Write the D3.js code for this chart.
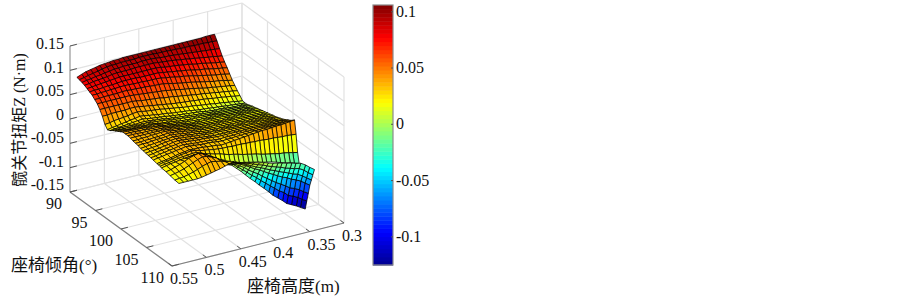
<!DOCTYPE html>
<html>
<head>
<meta charset="utf-8">
<script src="https://cdn.jsdelivr.net/npm/d3@7"></script>
<style>
    body { margin: 0; background: #fff; }
    text { font-family: "Liberation Serif", "Noto Sans CJK SC", serif; fill: #111; }
</style>
</head>
<body>
<svg id="chart" width="903" height="297"></svg>
<script>
(function () {
    'use strict';

    // axis ticks
    var heightTicks = [0.55, 0.5, 0.45, 0.4, 0.35, 0.3];
    var tiltTicks = [90, 95, 100, 105, 110];
    var torqueTicks = [0.15, 0.1, 0.05, 0, -0.05, -0.1, -0.15];
    var barTicks = [0.1, 0.05, 0, -0.05, -0.1];

    // mesh columns, seat height (m)
    var heights = [0.54, 0.533, 0.527, 0.52, 0.513, 0.507, 0.5, 0.493, 0.487, 0.48, 0.473, 0.467, 0.46, 0.453, 0.447, 0.44,
        0.433, 0.427, 0.42, 0.413, 0.407, 0.4, 0.393, 0.387, 0.38, 0.373, 0.367, 0.36, 0.353, 0.347, 0.34];

    // main sheet, one row per seat tilt, torque in 0.001 N.m
    var mainTilts = [90, 90.5, 91, 91.5, 92, 92.5, 93, 93.5, 94, 94.5, 95, 95.5, 96, 96.5, 97, 97.5, 98, 98.5, 99, 99.5, 100, 100.5,
        101, 101.5, 102, 102.5, 103, 103.5, 104, 104.5, 105, 105.7, 106, 106.3, 106.6];
    var mainTorque = [
        [82,86,89,91,93,95,96,97,98,98,99,99,99,99,99,99,99,99,99,99,99,99,99,99,99,99,99,99,100,100,100],
        [81,83,85,87,89,91,93,94,94,95,95,95,95,96,96,96,96,95,95,95,94,94,93,93,93,92,92,92,91,91,90],
        [79,81,82,84,85,87,88,90,90,91,91,91,91,92,92,92,91,90,89,89,88,87,86,85,84,83,82,81,80,79,78],
        [77,78,80,81,82,83,85,86,86,86,86,87,87,87,87,87,86,85,84,83,82,80,79,77,76,74,73,71,70,68,67],
        [74,75,76,77,78,79,80,81,81,81,81,81,81,81,81,81,80,78,77,76,75,73,72,70,68,67,65,63,61,60,58],
        [71,72,72,73,74,74,75,76,76,76,76,75,75,75,75,75,73,72,70,69,67,66,64,62,60,59,57,55,53,52,50],
        [68,68,69,69,70,70,71,71,71,70,70,70,69,69,69,68,66,65,63,61,60,58,56,54,52,50,48,46,45,43,41],
        [63,63,64,64,64,64,65,65,64,64,63,63,62,61,61,60,58,56,54,52,51,49,47,45,43,41,39,38,36,34,32],
        [58,58,58,58,58,58,58,58,57,56,55,54,53,52,51,50,48,47,45,43,42,40,38,36,34,33,31,30,28,27,25],
        [50,50,50,50,50,50,50,50,49,47,46,45,44,43,41,40,39,37,36,34,33,31,30,29,27,26,24,23,21,20,18],
        [40,40,41,41,41,41,42,42,41,39,38,36,35,33,32,30,29,28,27,26,25,24,23,22,20,19,18,16,15,13,12],
        [27,28,30,31,32,33,35,36,35,33,32,31,30,28,27,25,24,22,21,20,19,17,16,15,13,12,11,9,8,6,5],
        [20,22,23,25,26,28,29,31,30,28,27,25,24,23,21,20,19,18,17,15,14,13,12,11,10,9,8,7,6,5,4],
        [22,23,24,25,26,27,28,29,28,26,25,24,23,21,20,19,18,17,16,15,14,12,11,10,10,9,8,7,7,6,5],
        [26,26,27,27,27,27,28,28,27,26,25,24,22,21,20,19,18,17,16,15,14,13,12,11,11,10,10,9,8,8,7],
        [29,29,29,29,29,29,29,29,28,27,26,25,23,22,21,20,19,18,17,16,15,14,13,13,12,12,11,11,10,9,9],
        [32,32,31,31,31,31,30,30,29,27,26,25,24,22,21,20,19,19,18,17,17,16,15,14,14,13,13,12,12,11,10],
        [35,35,34,34,33,33,32,32,31,29,28,26,25,23,22,21,20,19,19,18,18,17,17,16,15,15,14,14,13,13,12],
        [38,37,37,36,36,35,34,33,32,30,29,27,26,24,23,21,21,20,20,20,19,19,18,17,17,16,16,15,15,14,13],
        [38,38,38,37,37,36,35,35,34,32,30,29,27,26,24,23,22,21,21,21,20,20,19,18,18,18,17,17,16,16,15],
        [38,38,38,37,37,37,36,36,35,33,32,30,29,27,26,24,23,23,22,22,21,21,20,20,19,19,18,18,17,17,16],
        [37,37,37,37,37,37,37,37,36,34,33,31,30,28,27,25,24,24,24,23,23,22,22,21,21,20,20,19,19,18,18],
        [35,35,36,36,37,37,38,38,37,35,34,32,31,29,28,26,25,25,25,24,24,23,23,22,22,22,21,21,20,20,19],
        [34,34,35,35,36,36,37,38,37,36,34,33,31,30,29,27,27,26,26,25,25,24,24,24,23,23,23,22,22,21,21],
        [33,34,34,35,36,36,37,38,37,36,34,33,32,31,29,28,28,27,27,26,26,25,25,25,25,24,24,24,23,23,22],
        [31,32,33,34,35,36,37,38,37,36,35,33,33,31,30,29,29,28,28,28,27,27,27,26,26,26,26,25,25,25,24],
        [30,31,32,33,35,36,37,38,37,36,35,34,33,32,31,30,30,30,29,29,29,28,28,28,28,27,27,27,27,26,26],
        [29,30,31,32,34,35,37,38,37,36,35,34,33,32,31,30,30,30,30,30,30,30,29,29,29,29,29,29,29,28,28],
        [28,29,31,32,33,35,36,38,37,36,35,34,34,33,32,31,31,31,31,31,31,31,31,31,31,31,31,31,31,31,31],
        [27,28,30,31,33,34,36,37,36,35,34,34,33,32,31,30,31,31,31,32,32,32,32,33,33,33,33,33,33,34,34],
        [26,28,29,31,32,34,35,37,36,35,34,33,33,32,31,30,31,31,32,32,33,33,34,34,35,35,35,36,36,37,37],
        [24,26,27,29,31,33,34,36,35,35,34,33,32,31,29,30,31,32,33,34,35,36,37,38,38,39,40,40,41,42,43],
        [24,26,27,29,31,33,34,36,35,32,30,29,27,26,25,25,24,24,24,23,23,22,22,21,20,20,19,18,18,17,16],
        [23,25,26,28,30,31,32,33,33,29,25,23,20,18,15,12,10,8,5,3,1,-1,-4,-6,-8,-10,-12,-13,-15,-17,-19],
        [22,24,26,27,29,30,31,32,32,27,22,16,11,5,0,-2,-4,-7,-9,-11,-13,-15,-18,-20,-22,-25,-28,-31,-33,-36,-39]
    ];

    // front sheet, first 13 columns only
    var frontTilts = [106.6, 107.5, 108.3, 109.2, 110];
    var frontTorque = [
        [22,24,26,27,29,30,31,32,32,27,22,16,11],
        [21,23,26,29,33,37,40,42,39,34,28,22,17],
        [19,21,23,26,30,34,38,41,40,36,32,26,22],
        [17,18,19,21,24,27,31,34,36,34,32,29,27],
        [16,16,16,16,16,17,19,21,23,25,28,31,33]
    ];

    // blue wing, columns 12 to 30
    var wingTilts = [107.8, 108.1, 108.4, 108.7, 109, 109.3, 109.6];
    var wingTorque = [
        [10,7,4,-5,-14,-23,-33,-42,-51,-60,-70,-79,-87,-95,-103,-108,-113,-118,-124],
        [14,11,8,0,-8,-15,-24,-31,-39,-47,-55,-62,-70,-76,-84,-88,-93,-99,-105],
        [17,14,11,5,-1,-8,-15,-21,-28,-35,-42,-48,-54,-60,-66,-70,-75,-81,-87],
        [21,18,15,10,5,0,-6,-11,-16,-22,-27,-32,-37,-41,-46,-50,-55,-61,-68],
        [23,21,18,14,9,5,0,-4,-8,-13,-17,-21,-25,-29,-33,-36,-42,-48,-55],
        [25,23,20,17,14,11,7,4,0,-4,-7,-10,-14,-17,-20,-22,-28,-35,-42],
        [28,26,23,21,18,16,13,11,8,5,3,1,-2,-4,-7,-9,-15,-22,-29]
    ];

    var gridColor = '#e2e2e2';
    var axisColor = '#808080';

    var svg = d3.select('#chart');

    // oblique projection, origin is the h=0.55, tilt=110, z=-0.15 corner
    var hx = d3.scaleLinear().domain([0.55, 0.3]).range([172, 344]);
    var hy = d3.scaleLinear().domain([0.55, 0.3]).range([0, -43]);
    var tx = d3.scaleLinear().domain([110, 90]).range([0, -102]);
    var ty = d3.scaleLinear().domain([110, 90]).range([266, 192]);
    var zy = d3.scaleLinear().domain([-0.15, 0.15]).range([0, -146]);
    // the z labels sit a little tighter than their ticks
    var zLabelY = d3.scaleLinear().domain([-0.15, 0.15]).range([190, 49]);

    function px(h, t) { return hx(h) + tx(t); }
    function py(h, t, z) { return hy(h) + ty(t) + zy(z); }

    function line(a, b, color, width) {
        svg.append('line')
            .attr('x1', px(a[0], a[1])).attr('y1', py(a[0], a[1], a[2]))
            .attr('x2', px(b[0], b[1])).attr('y2', py(b[0], b[1], b[2]))
            .attr('stroke', color).attr('stroke-width', width);
    }

    // walls and floor
    heightTicks.forEach(function (h) {
        line([h, 90, -0.15], [h, 90, 0.15], gridColor, 1.2);
        line([h, 90, -0.15], [h, 110, -0.15], gridColor, 1.2);
    });
    tiltTicks.forEach(function (t) {
        line([0.3, t, -0.15], [0.3, t, 0.15], gridColor, 1.2);
        line([0.3, t, -0.15], [0.55, t, -0.15], gridColor, 1.2);
    });
    torqueTicks.forEach(function (z) {
        line([0.55, 90, z], [0.3, 90, z], gridColor, 1.2);
        line([0.3, 90, z], [0.3, 110, z], gridColor, 1.2);
    });

    // axes on top of the grid
    line([0.55, 90, -0.15], [0.55, 90, 0.15], '#b4b4b4', 1.6);
    line([0.55, 90, -0.15], [0.55, 110, -0.15], axisColor, 1.2);
    line([0.55, 110, -0.15], [0.3, 110, -0.15], axisColor, 1.2);

    torqueTicks.forEach(function (z) {
        line([0.55, 90, z], [0.54, 90, z], '#555', 1);
        svg.append('text')
            .attr('x', 64)
            .attr('y', zLabelY(z))
            .attr('text-anchor', 'end')
            .attr('font-size', 16)
            .text(z);
    });
    tiltTicks.forEach(function (t) {
        line([0.55, t, -0.15], [0.54, t, -0.15], '#555', 1);
        svg.append('text')
            .attr('x', px(0.55, t) - 8)
            .attr('y', py(0.55, t, -0.15) + 17)
            .attr('text-anchor', 'end')
            .attr('font-size', 16)
            .text(t);
    });
    heightTicks.forEach(function (h) {
        line([h, 110, -0.15], [h, 109.3, -0.15], '#555', 1);
        svg.append('text')
            .attr('x', px(h, 110) - 2)
            .attr('y', py(h, 110, -0.15) + 18)
            .attr('font-size', 16)
            .text(h);
    });

    // jet colormap, 64 levels as in the colorbar
    var zMin = -0.125;
    var zMax = 0.106;
    var jet = d3.scaleLinear()
        .domain([0, 0.125, 0.375, 0.625, 0.875, 1])
        .range(['#000090', '#0000ff', '#00ffff', '#ffff00', '#ff0000', '#800000']);
    var level = d3.scaleQuantize().domain([zMin, zMax]).range(d3.range(64));

    function jetColor(z) {
        return jet((level(z) + 0.5) / 64);
    }

    // collect the quads of a sheet; the colour is taken from the first corner
    function quads(tilts, rows, firstCol) {
        var cells = [];
        for (var i = 0; i < rows.length - 1; i++) {
            for (var j = 0; j < rows[i].length - 1; j++) {
                var corners = [
                    [heights[firstCol + j], tilts[i], rows[i][j] / 1000],
                    [heights[firstCol + j + 1], tilts[i], rows[i][j + 1] / 1000],
                    [heights[firstCol + j + 1], tilts[i + 1], rows[i + 1][j + 1] / 1000],
                    [heights[firstCol + j], tilts[i + 1], rows[i + 1][j] / 1000]
                ];
                cells.push({
                    corners: corners,
                    z: rows[i][j] / 1000,
                    depth: d3.mean(corners, function (c) { return py(c[0], c[1], -0.15); })
                });
            }
        }
        return cells;
    }

    var cells = quads(mainTilts, mainTorque, 0)
        .concat(quads(frontTilts, frontTorque, 0))
        .concat(quads(wingTilts, wingTorque, 12));

    // painter's order, far cells first
    cells.sort(function (a, b) { return a.depth - b.depth; });

    svg.append('g').selectAll('polygon')
        .data(cells)
        .enter().append('polygon')
        .attr('points', function (d) {
            return d.corners.map(function (c) {
                return px(c[0], c[1]) + ',' + py(c[0], c[1], c[2]);
            }).join(' ');
        })
        .attr('fill', function (d) { return jetColor(d.z); })
        .attr('stroke', '#000')
        .attr('stroke-opacity', 0.8)
        .attr('stroke-width', 0.95);

    // colorbar
    var barX = 373;
    var barW = 20;
    var barY = d3.scaleLinear().domain([zMin, zMax]).range([265, 5]);
    var bar = svg.append('g');
    bar.selectAll('rect')
        .data(d3.range(64))
        .enter().append('rect')
        .attr('x', barX)
        .attr('width', barW)
        .attr('y', function (d) { return barY(zMin + (d + 1) * (zMax - zMin) / 64); })
        .attr('height', (265 - 5) / 64 + 0.5)
        .attr('fill', function (d) { return jet((d + 0.5) / 64); });
    bar.append('rect')
        .attr('x', barX).attr('y', 5).attr('width', barW).attr('height', 260)
        .attr('fill', 'none').attr('stroke', '#8a8a8a').attr('stroke-width', 1.2);
    barTicks.forEach(function (z) {
        bar.append('line')
            .attr('x1', barX + barW - 2).attr('x2', barX + barW)
            .attr('y1', barY(z)).attr('y2', barY(z))
            .attr('stroke', '#555');
        bar.append('text')
            .attr('x', barX + barW + 3)
            .attr('y', barY(z) + 5)
            .attr('font-size', 16)
            .text(z);
    });

    // axis titles
    svg.append('text').attr('x', 11).attr('y', 271).attr('font-size', 17).text('座椅倾角(°)');
    svg.append('text').attr('x', 247).attr('y', 292).attr('font-size', 17).text('座椅高度(m)');
    svg.append('text')
        .attr('transform', 'translate(25,120) rotate(-90)')
        .attr('text-anchor', 'middle')
        .attr('font-size', 16)
        .text('髋关节扭矩Z (N·m)');
})();
</script>
</body>
</html>
